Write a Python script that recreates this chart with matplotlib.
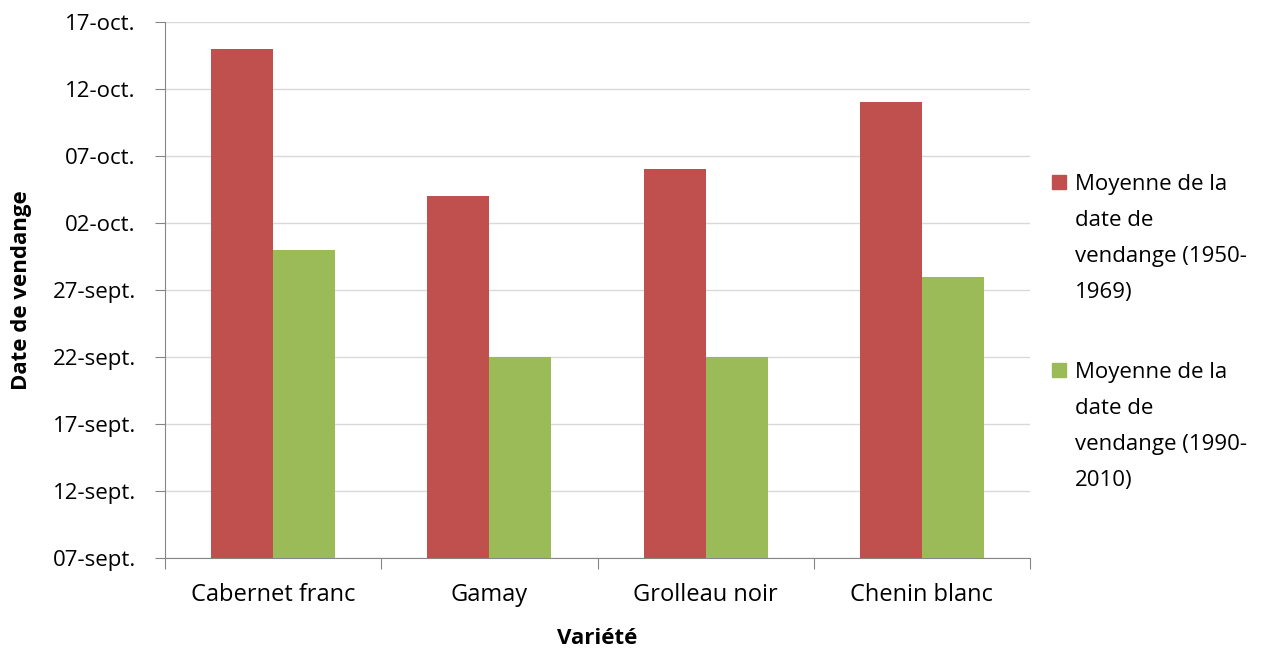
import matplotlib.pyplot as plt
import matplotlib.dates as mdates
from matplotlib.patches import Rectangle
from matplotlib.ticker import FixedLocator, FuncFormatter, NullFormatter
import numpy as np
import pandas as pd

# Données
varietes = ['Cabernet franc', 'Gamay', 'Grolleau noir', 'Chenin blanc']
dates_1950_1969 = ['2001-10-15', '2001-10-04', '2001-10-06', '2001-10-11']
dates_1990_2010 = ['2001-09-30', '2001-09-22', '2001-09-22', '2001-09-28']
legende = [['Moyenne de la', 'date de', 'vendange (1950-', '1969)'],
           ['Moyenne de la', 'date de', 'vendange (1990-', '2010)']]
date_min = '2001-09-07'
date_max = '2001-10-17'
mois = {9: 'sept.', 10: 'oct.'}

ROUGE = '#C0504D'
VERT = '#9BBB59'
GRIS = '#868686'

plt.rcParams['font.family'] = ['Open Sans', 'DejaVu Sans']
plt.rcParams['font.size'] = 16

W, H = 1282, 650
fig = plt.figure(figsize=(W / 100, H / 100), dpi=100)
ax = fig.add_axes([165 / W, 92 / H, 865 / W, 536 / H])

base = mdates.date2num(pd.Timestamp(date_min))
haut = mdates.date2num(pd.Timestamp(date_max))
v1 = mdates.date2num(pd.to_datetime(dates_1950_1969))
v2 = mdates.date2num(pd.to_datetime(dates_1990_2010))

x = np.arange(len(varietes))
w = 0.287
ax.bar(x - w / 2, v1 - base, w, bottom=base, color=ROUGE, zorder=3)
ax.bar(x + w / 2, v2 - base, w, bottom=base, color=VERT, zorder=3)

ax.set_xlim(-0.5, len(varietes) - 0.5)
ax.set_ylim(base, haut)

# axe y : dates tous les 5 jours
ax.set_yticks(np.arange(base, haut + 0.5, 5))
def fmt_date(v, pos):
    d = mdates.num2date(v)
    return f'{d.day:02d}-{mois[d.month]}'
ax.yaxis.set_major_formatter(FuncFormatter(fmt_date))
ax.grid(axis='y', color='#D9D9D9', linewidth=1, zorder=0)

# axe x : traits entre catégories, étiquettes au centre
ax.xaxis.set_major_locator(FixedLocator(np.arange(-0.5, len(varietes), 1)))
ax.xaxis.set_major_formatter(NullFormatter())
ax.xaxis.set_minor_locator(FixedLocator(x))
ax.set_xticklabels(varietes, minor=True, fontsize=17)
ax.tick_params(axis='x', which='minor', length=0, pad=18)
ax.tick_params(axis='x', which='major', length=8, color=GRIS)
ax.tick_params(axis='y', length=7, color=GRIS, pad=14)

for s in ['top', 'right']:
    ax.spines[s].set_visible(False)
for s in ['left', 'bottom']:
    ax.spines[s].set_color(GRIS)

ax.set_xlabel('Variété', fontweight='bold', labelpad=15)
ax.set_ylabel('Date de vendange', fontweight='bold', labelpad=15)

# légende à droite, dessinée à la main
for i, (lignes, col) in enumerate(zip(legende, [ROUGE, VERT])):
    y0 = 175 + i * 188
    fig.patches.append(Rectangle((1052 / W, 1 - (y0 + 14) / H), 14 / W, 14 / H,
                                 transform=fig.transFigure, color=col))
    for j, t in enumerate(lignes):
        fig.text(1075 / W, 1 - (y0 + 15 + j * 36) / H, t, ha='left', va='baseline')

plt.savefig('out.png', dpi=100)
